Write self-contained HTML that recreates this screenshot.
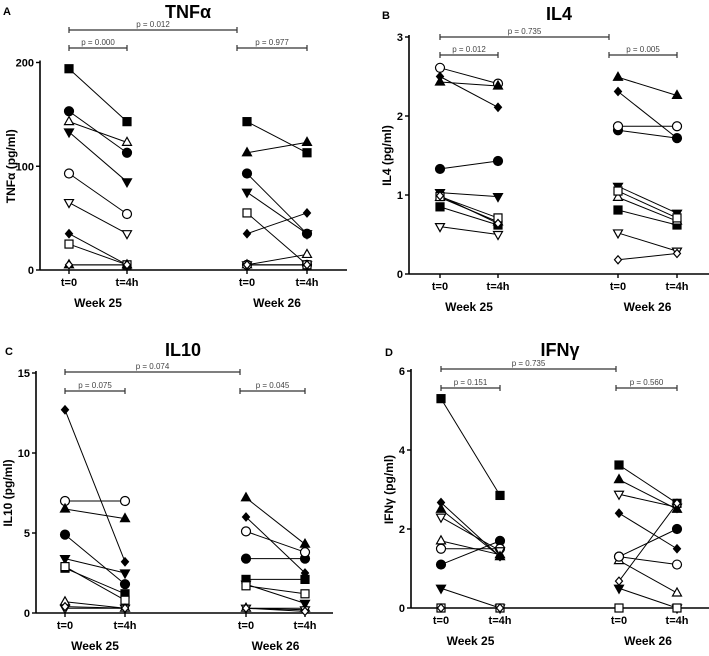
<!DOCTYPE html>
<html><head><meta charset="utf-8"><style>
body{margin:0;background:#fff}
svg{display:block;font-family:"Liberation Sans",Arial,sans-serif}
</style></head><body>
<svg id="c" width="709" height="656" viewBox="0 0 709 656"></svg>
<script>
const categories = ["t=0","t=4h","t=0","t=4h"];
const weeks = ["Week 25","Week 26"];
const markers = ["sq","ci","tuo","td","cio","tdo","di","sqo","tu","dio"];
const valuesA = [[194,143,143,113],[153,113,93,35],[143,123,5,15],[133,85,75,35],[93,54,5,5],[65,35,5,5],[35,5,35,55],[25,5,55,5],[5,5,113,123],[5,5,5,5]];
const valuesB = [[0.85,0.62,0.81,0.62],[1.33,1.43,1.82,1.72],[0.97,0.66,0.97,0.67],[1.03,0.98,1.11,0.77],[2.61,2.41,1.87,1.87],[0.6,0.5,0.52,0.29],[2.5,2.11,2.31,1.72],[0.98,0.71,1.05,0.71],[2.43,2.38,2.49,2.26],[0.99,0.64,0.18,0.26]];
const valuesC = [[2.8,1.2,2.1,2.1],[4.9,1.8,3.4,3.4],[0.7,0.3,0.3,0.3],[3.4,2.5,1.8,0.6],[7.0,7.0,5.1,3.8],[0.3,0.3,0.3,0.2],[12.7,3.2,6.0,2.5],[2.9,0.8,1.7,1.2],[6.5,5.9,7.2,4.3],[0.4,0.3,0.3,0.1]];
const valuesD = [[5.3,2.85,3.62,2.65],[1.1,1.7,1.3,2.0],[1.7,1.35,1.2,0.38],[0.5,0,0.5,0],[1.5,1.5,1.3,1.1],[2.3,1.45,2.88,2.55],[2.67,1.3,2.4,1.5],[0,0,0,0],[2.5,1.3,3.25,2.5],[0,0,0.68,2.65]];
const ticksA=[0,100,200], ticksB=[0,1,2,3], ticksC=[0,5,10,15], ticksD=[0,2,4,6];
const pA=["p = 0.012","p = 0.000","p = 0.977"], pB=["p = 0.735","p = 0.012","p = 0.005"], pC=["p = 0.074","p = 0.075","p = 0.045"], pD=["p = 0.735","p = 0.151","p = 0.560"];

const svg=document.getElementById('c');
const NS="http://www.w3.org/2000/svg";
function mk(tag,attrs,parent,name,txt){const e=document.createElementNS(NS,tag);for(const k in attrs)e.setAttribute(k,attrs[k]);


if(txt!==undefined)e.textContent=txt;(parent||svg).appendChild(e);return e;}

function marker(g,type,x,y){
  const r=4, fill=type.endsWith('o')?'#fff':'#000', t=type.replace(/o$/,'');
  const st={fill:fill,stroke:'#000','stroke-width':1.2};
  if(t==='sq') mk('rect',Object.assign({x:x-r,y:y-r,width:2*r,height:2*r},st),g,'marker-square');
  else if(t==='ci') mk('circle',Object.assign({cx:x,cy:y,r:r+0.5},st),g,'marker-circle');
  else if(t==='tu') mk('polygon',Object.assign({points:`${x},${y-r-1} ${x-r-0.5},${y+r-1} ${x+r+0.5},${y+r-1}`},st),g,'marker-triangle-up');
  else if(t==='td') mk('polygon',Object.assign({points:`${x},${y+r+1} ${x-r-0.5},${y-r+1} ${x+r+0.5},${y-r+1}`},st),g,'marker-triangle-down');
  else mk('polygon',Object.assign({points:`${x},${y-r} ${x-r+0.5},${y} ${x},${y+r} ${x+r-0.5},${y}`},st),g,'marker-diamond');
}

function panel(cfg){
  const g=mk('g',{},svg,'panel-'+cfg.id);
  const y=v=>cfg.y0-(v/cfg.max)*(cfg.y0-cfg.yTop);
  mk('text',{x:cfg.lx,y:cfg.ly,'font-size':11,'font-weight':'bold'},g,'panel-letter',cfg.id);
  mk('text',{x:cfg.tx,y:cfg.ty,'font-size':18,'font-weight':'bold','text-anchor':'middle'},g,'chart-title',cfg.title);
  mk('line',{x1:cfg.ax,y1:cfg.yTop-2,x2:cfg.ax,y2:cfg.y0,stroke:'#000','stroke-width':1.6},g,'y-axis');
  mk('line',{x1:cfg.ax,y1:cfg.y0,x2:cfg.xEnd,y2:cfg.y0,stroke:'#000','stroke-width':1.6},g,'x-axis');
  cfg.ticks.forEach(t=>{
    mk('line',{x1:cfg.ax-4,y1:y(t),x2:cfg.ax,y2:y(t),stroke:'#000','stroke-width':1.4},g,'y-tick');
    mk('text',{x:cfg.ax-6,y:y(t)+4,'font-size':11,'font-weight':'bold','text-anchor':'end'},g,'y-tick-label',t);
  });
  mk('text',{transform:`translate(${cfg.ylx},${(cfg.y0+cfg.yTop)/2}) rotate(-90)`,'font-size':12,'font-weight':'bold','text-anchor':'middle'},g,'y-axis-title',cfg.ylabel);
  categories.forEach((c,i)=>{
    mk('line',{x1:cfg.cx[i],y1:cfg.y0,x2:cfg.cx[i],y2:cfg.y0+4,stroke:'#000','stroke-width':1.4},g,'x-tick');
    mk('text',{x:cfg.cx[i],y:cfg.y0+16,'font-size':11,'font-weight':'bold','text-anchor':'middle'},g,'x-tick-label',c);
  });
  weeks.forEach((w,i)=>mk('text',{x:(cfg.cx[2*i]+cfg.cx[2*i+1])/2,y:cfg.y0+37,'font-size':12,'font-weight':'bold','text-anchor':'middle'},g,'week-label',w));
  const br=(x1,x2,yy,txt)=>{
    mk('line',{x1:x1,y1:yy,x2:x2,y2:yy,stroke:'#333','stroke-width':1.2},g,'significance-bracket');
    mk('line',{x1:x1,y1:yy-3,x2:x1,y2:yy+3,stroke:'#333','stroke-width':1.2},g,'bracket-end');
    mk('line',{x1:x2,y1:yy-3,x2:x2,y2:yy+3,stroke:'#333','stroke-width':1.2},g,'bracket-end');
    mk('text',{x:(x1+x2)/2,y:yy-3,'font-size':8,fill:'#444','text-anchor':'middle'},g,'p-value-label',txt);
  };
  br(cfg.cx[0],cfg.b2,cfg.by1,cfg.p[0]);
  br(cfg.cx[0],cfg.cx[1],cfg.by2,cfg.p[1]);
  br(cfg.b2,cfg.cx[3],cfg.by2,cfg.p[2]);
  cfg.vals.forEach((v,s)=>{
    [0,2].forEach(k=>mk('line',{x1:cfg.cx[k],y1:y(v[k]),x2:cfg.cx[k+1],y2:y(v[k+1]),stroke:'#000','stroke-width':1},g,'subject-line'));
  });
  cfg.vals.forEach((v,s)=>v.forEach((val,k)=>marker(g,markers[s],cfg.cx[k],y(val))));
}

panel({id:'A',title:'TNFα',ylabel:'TNFα (pg/ml)',vals:valuesA,ticks:ticksA,p:pA,max:200,y0:270,yTop:62.5,ax:40,xEnd:347,cx:[69,127,247,307],b2:237,by1:30,by2:48,lx:3,ly:15,tx:188,ty:18,ylx:15});
panel({id:'B',title:'IL4',ylabel:'IL4 (pg/ml)',vals:valuesB,ticks:ticksB,p:pB,max:3,y0:274,yTop:37,ax:409,xEnd:709,cx:[440,498,618,677],b2:609,by1:37,by2:55,lx:382,ly:19,tx:559,ty:20,ylx:391});
panel({id:'C',title:'IL10',ylabel:'IL10 (pg/ml)',vals:valuesC,ticks:ticksC,p:pC,max:15,y0:613,yTop:373,ax:36,xEnd:333,cx:[65,125,246,305],b2:240,by1:372,by2:391,lx:5,ly:355,tx:183,ty:356,ylx:12});
panel({id:'D',title:'IFNγ',ylabel:'IFNγ (pg/ml)',vals:valuesD,ticks:ticksD,p:pD,max:6,y0:608,yTop:371,ax:411,xEnd:709,cx:[441,500,619,677],b2:616,by1:369,by2:388,lx:385,ly:356,tx:560,ty:356,ylx:393});
</script>
</body></html>
